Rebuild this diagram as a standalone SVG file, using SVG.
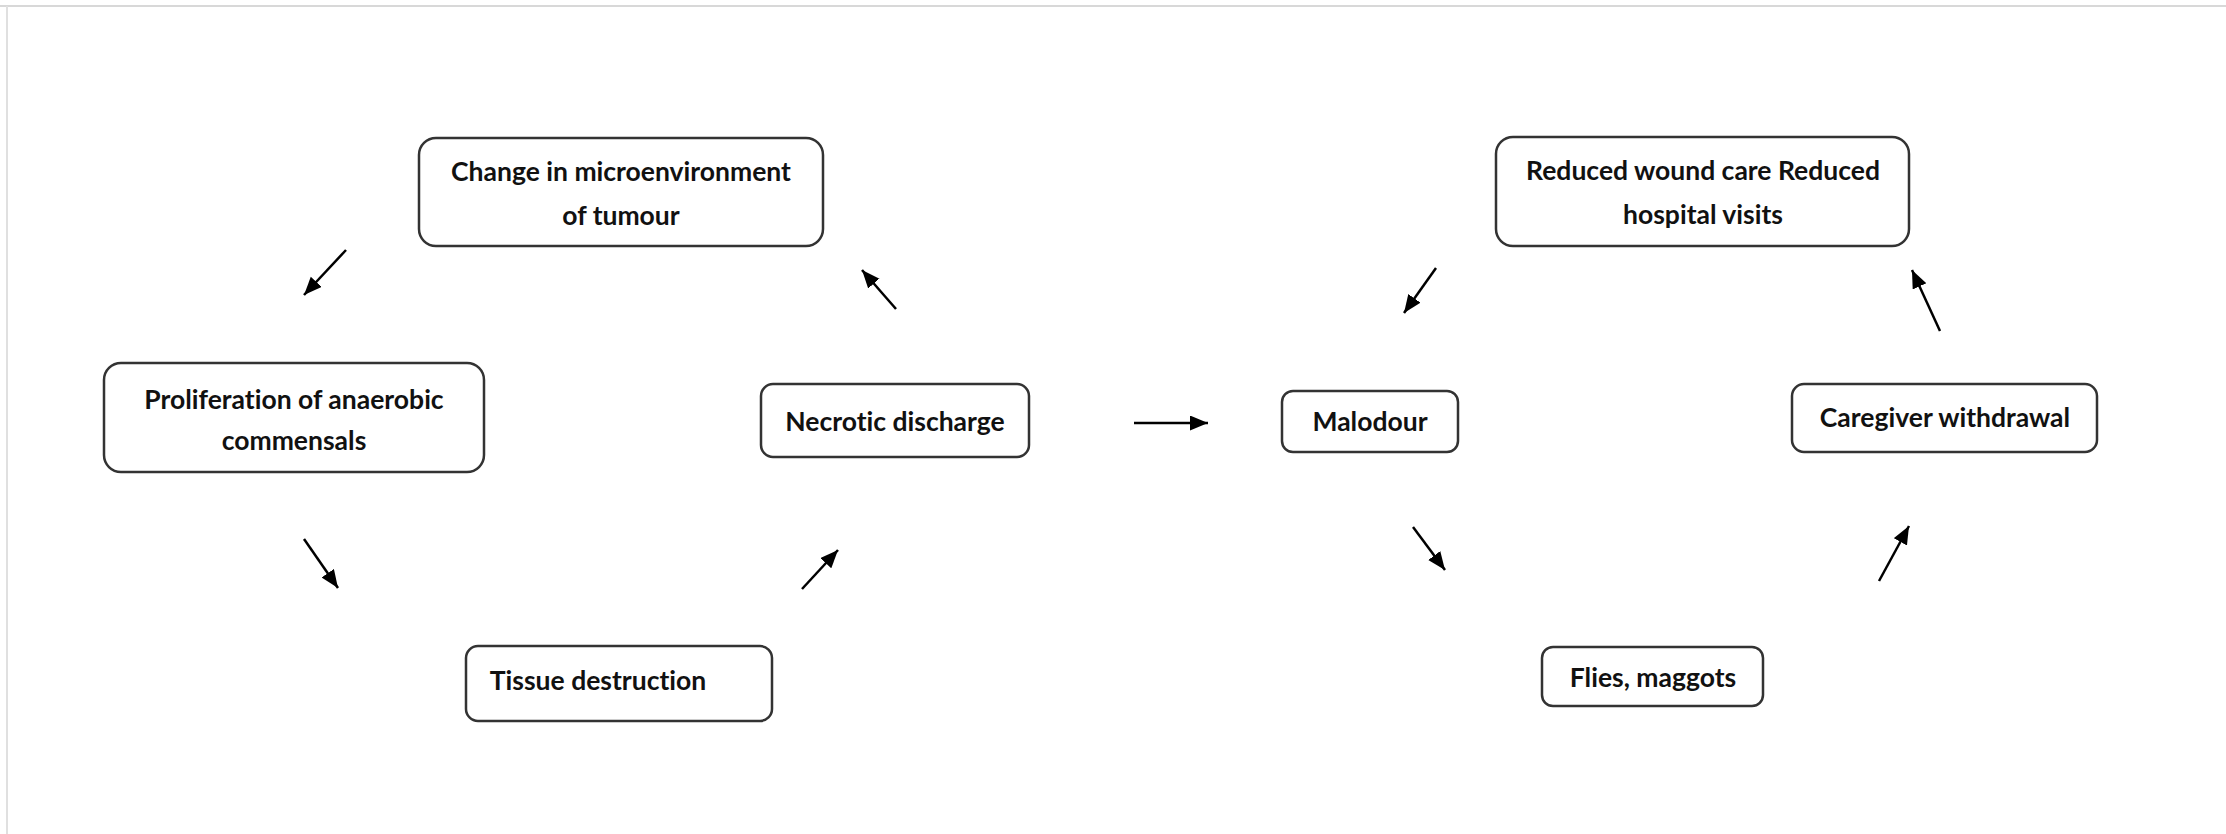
<svg xmlns="http://www.w3.org/2000/svg" width="2226" height="834" viewBox="0 0 2226 834">
<defs>
<marker id="ah" markerUnits="userSpaceOnUse" markerWidth="20" markerHeight="16" refX="18" refY="7.5" orient="auto">
<path d="M0,0 L18,7.5 L0,15 z" fill="#000"/>
</marker>
<style>
.box{fill:#fff;stroke:#333;stroke-width:2.5}
.t{font-family:Lato,"Open Sans","Liberation Sans",sans-serif;font-weight:700;font-size:26.5px;fill:#111;text-anchor:middle;font-variant-ligatures:none;font-feature-settings:"liga" 0}
.c{stroke:#000;stroke-width:2.5;fill:none;marker-end:url(#ah)}
</style>
</defs>
<rect width="2226" height="834" fill="#fff"/>
<line x1="0" y1="6" x2="2226" y2="6" stroke="#d8d8d8" stroke-width="2"/>
<line x1="7" y1="6" x2="7" y2="834" stroke="#e0e0e0" stroke-width="2"/>
<g id="n-change">
<rect class="box" x="419" y="138" width="404" height="108" rx="17"/>
<text class="t" x="621" y="181">Change in microenvironment</text>
<text class="t" x="621" y="225">of tumour</text>
</g>
<g id="n-prolif">
<rect class="box" x="104" y="363" width="380" height="109" rx="17"/>
<text class="t" x="294" y="409">Proliferation of anaerobic</text>
<text class="t" x="294" y="450">commensals</text>
</g>
<g id="n-necrotic">
<rect class="box" x="761" y="384" width="268" height="73" rx="12"/>
<text class="t" x="895" y="431">Necrotic discharge</text>
</g>
<g id="n-tissue">
<rect class="box" x="466" y="646" width="306" height="75" rx="12"/>
<text class="t" x="598" y="690">Tissue destruction</text>
</g>
<g id="n-malodour">
<rect class="box" x="1282" y="391" width="176" height="61" rx="11"/>
<text class="t" x="1370" y="431">Malodour</text>
</g>
<g id="n-flies">
<rect class="box" x="1542" y="647" width="221" height="59" rx="11"/>
<text class="t" x="1653" y="687">Flies, maggots</text>
</g>
<g id="n-caregiver">
<rect class="box" x="1792" y="384" width="305" height="68" rx="12"/>
<text class="t" x="1945" y="427">Caregiver withdrawal</text>
</g>
<g id="n-reduced">
<rect class="box" x="1496" y="137" width="413" height="109" rx="17"/>
<text class="t" x="1703" y="180">Reduced wound care Reduced</text>
<text class="t" x="1703" y="224">hospital visits</text>
</g>
<g id="connectors">
<line class="c" x1="346" y1="250" x2="304" y2="295"/>
<line class="c" x1="304" y1="539" x2="338" y2="588"/>
<line class="c" x1="802" y1="589" x2="838" y2="550"/>
<line class="c" x1="896" y1="309" x2="862" y2="270"/>
<line class="c" x1="1134" y1="423" x2="1208" y2="423"/>
<line class="c" x1="1436" y1="268" x2="1404" y2="313"/>
<line class="c" x1="1413" y1="527" x2="1445" y2="570"/>
<line class="c" x1="1879" y1="581" x2="1909" y2="526"/>
<line class="c" x1="1940" y1="331" x2="1912" y2="270"/>
</g>
</svg>
